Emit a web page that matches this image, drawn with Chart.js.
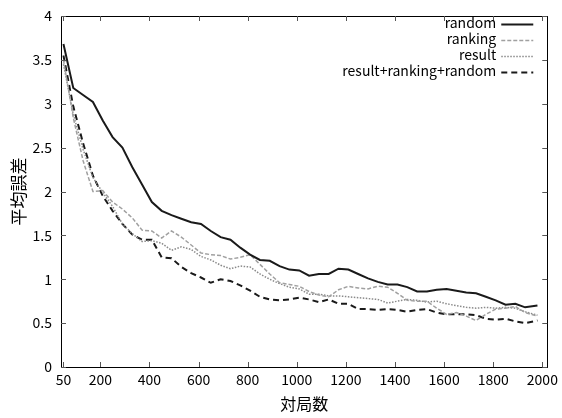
<!DOCTYPE html>
<html>
<head>
<meta charset="utf-8">
<script src="https://cdn.jsdelivr.net/npm/chart.js@4"></script>
<style>
  html, body { margin: 0; padding: 0; background: #fff; }
  #wrap { width: 562px; height: 418px; }
</style>
</head>
<body>
<div id="wrap"><canvas id="myChart" width="562" height="418"></canvas></div>
<script>
// games played (x values)
const games = [50, 90, 130, 170, 210, 250, 290, 330, 370, 410, 450, 490, 530, 570, 610, 650, 690, 730, 770, 810,
    850, 890, 930, 970, 1010, 1050, 1090, 1130, 1170, 1210, 1250, 1290, 1330, 1370, 1410, 1450, 1490, 1530, 1570, 1610,
    1650, 1690, 1730, 1770, 1810, 1850, 1890, 1930, 1980];

const randomErr = [3.68, 3.18, 3.10, 3.02, 2.81, 2.62, 2.50, 2.28, 2.08, 1.88, 1.78, 1.73, 1.69, 1.65, 1.63, 1.55, 1.48, 1.45, 1.36, 1.28,
    1.22, 1.21, 1.15, 1.11, 1.10, 1.04, 1.06, 1.06, 1.12, 1.11, 1.06, 1.01, 0.97, 0.94, 0.94, 0.91, 0.86, 0.86, 0.88, 0.89,
    0.87, 0.85, 0.84, 0.80, 0.76, 0.71, 0.72, 0.68, 0.70];

const rankingErr = [3.50, 2.84, 2.35, 2.00, 2.01, 1.88, 1.80, 1.70, 1.56, 1.55, 1.47, 1.55, 1.48, 1.39, 1.30, 1.28, 1.27, 1.23, 1.25, 1.28,
    1.17, 1.06, 0.96, 0.94, 0.92, 0.86, 0.82, 0.80, 0.88, 0.92, 0.90, 0.89, 0.92, 0.91, 0.84, 0.76, 0.75, 0.75, 0.67, 0.60,
    0.62, 0.58, 0.53, 0.60, 0.66, 0.67, 0.69, 0.62, 0.58];

const resultErr = [3.45, 2.88, 2.48, 2.16, 1.99, 1.83, 1.63, 1.52, 1.43, 1.44, 1.41, 1.33, 1.37, 1.34, 1.26, 1.22, 1.16, 1.12, 1.15, 1.14,
    1.06, 1.00, 0.95, 0.91, 0.89, 0.83, 0.83, 0.81, 0.81, 0.80, 0.79, 0.78, 0.77, 0.73, 0.75, 0.77, 0.76, 0.74, 0.75, 0.72,
    0.70, 0.68, 0.67, 0.68, 0.67, 0.68, 0.67, 0.63, 0.59];

const combinedErr = [3.55, 2.97, 2.55, 2.18, 1.95, 1.78, 1.63, 1.51, 1.45, 1.45, 1.25, 1.24, 1.14, 1.07, 1.02, 0.96, 1.00, 0.98, 0.93, 0.87,
    0.80, 0.77, 0.76, 0.77, 0.79, 0.77, 0.74, 0.77, 0.72, 0.72, 0.66, 0.66, 0.65, 0.66, 0.65, 0.63, 0.65, 0.66, 0.62, 0.60,
    0.60, 0.60, 0.59, 0.55, 0.54, 0.55, 0.52, 0.50, 0.53];

const xTicks = [50, 200, 400, 600, 800, 1000, 1200, 1400, 1600, 1800, 2000];
const yTicks = [0, 0.5, 1, 1.5, 2, 2.5, 3, 3.5, 4];

const FONT = "'Noto Sans CJK JP', 'Noto Sans', sans-serif";

function toPoints(values) {
    return values.map((v, i) => ({ x: games[i], y: v }));
}

// frame with inward ticks on all four sides (gnuplot style)
const framePlugin = {
    id: 'frame',
    afterDatasetsDraw(chart) {
        const { ctx, chartArea: a, scales } = chart;
        ctx.save();
        ctx.strokeStyle = '#000';
        ctx.lineWidth = 1;
        ctx.strokeRect(Math.round(a.left) + 0.5, Math.round(a.top) + 0.5,
            Math.round(a.right - a.left), Math.round(a.bottom - a.top));
        ctx.strokeStyle = '#555';
        ctx.beginPath();
        xTicks.forEach(t => {
            const x = Math.round(scales.x.getPixelForValue(t)) + 0.5;
            ctx.moveTo(x, a.bottom); ctx.lineTo(x, a.bottom - 5);
            ctx.moveTo(x, a.top); ctx.lineTo(x, a.top + 5);
        });
        yTicks.forEach(t => {
            const y = Math.round(scales.y.getPixelForValue(t)) + 0.5;
            ctx.moveTo(a.left, y); ctx.lineTo(a.left + 5, y);
            ctx.moveTo(a.right, y); ctx.lineTo(a.right - 5, y);
        });
        ctx.stroke();
        ctx.restore();
    }
};

// key in the top right corner: text right aligned, line sample after it
const keyPlugin = {
    id: 'key',
    afterDraw(chart) {
        const { ctx, chartArea: a } = chart;
        ctx.save();
        ctx.font = '14px ' + FONT;
        ctx.textAlign = 'right';
        ctx.textBaseline = 'middle';
        chart.data.datasets.forEach((ds, i) => {
            const y = a.top + 8 + i * 16;
            ctx.fillStyle = '#000';
            ctx.fillText(ds.label, a.right - 51, y - 1);
            ctx.strokeStyle = ds.borderColor;
            ctx.lineWidth = ds.borderWidth;
            ctx.setLineDash(ds.borderDash || []);
            ctx.beginPath();
            ctx.moveTo(a.right - 46, Math.round(y) + 0.5);
            ctx.lineTo(a.right - 14, Math.round(y) + 0.5);
            ctx.stroke();
        });
        ctx.restore();
    }
};

const ctx = document.getElementById('myChart').getContext('2d');
const myChart = new Chart(ctx, {
    type: 'line',
    data: {
        datasets: [
            { label: 'random', data: toPoints(randomErr), borderColor: '#1a1a1a', borderWidth: 2 },
            { label: 'ranking', data: toPoints(rankingErr), borderColor: '#a0a0a0', borderWidth: 1.5, borderDash: [4, 2] },
            { label: 'result', data: toPoints(resultErr), borderColor: '#8a8a8a', borderWidth: 1.5, borderDash: [1.5, 1.5] },
            { label: 'result+ranking+random', data: toPoints(combinedErr), borderColor: '#1a1a1a', borderWidth: 2, borderDash: [6, 4] }
        ]
    },
    options: {
        responsive: false,
        animation: false,
        layout: { padding: { top: 13, right: 10, left: 0, bottom: 0 } },
        elements: { point: { radius: 0 }, line: { tension: 0 } },
        plugins: { legend: { display: false }, tooltip: { enabled: false } },
        scales: {
            x: {
                type: 'linear',
                min: 40,
                max: 2020,
                afterBuildTicks: s => { s.ticks = xTicks.map(v => ({ value: v })); },
                afterFit: s => { s.height = 51; },
                grid: { display: false, drawTicks: false },
                border: { display: false },
                ticks: { color: '#000', font: { family: FONT, size: 14 }, padding: 4, maxRotation: 0, autoSkip: false,
                    callback: v => String(v) },
                title: { display: true, text: '対局数', color: '#000', font: { family: FONT, size: 16 }, padding: { top: 0, bottom: 4 } }
            },
            y: {
                min: 0,
                max: 4,
                afterBuildTicks: s => { s.ticks = yTicks.map(v => ({ value: v })); },
                afterFit: s => { s.width = 61; },
                grid: { display: false, drawTicks: false },
                border: { display: false },
                ticks: { color: '#000', font: { family: FONT, size: 14, lineHeight: 1 }, padding: 9, callback: v => String(v) },
                title: { display: true, text: '平均誤差', color: '#000', font: { family: FONT, size: 17 }, padding: { top: 8, bottom: 0 } }
            }
        }
    },
    plugins: [framePlugin, keyPlugin]
});
</script>
</body>
</html>
